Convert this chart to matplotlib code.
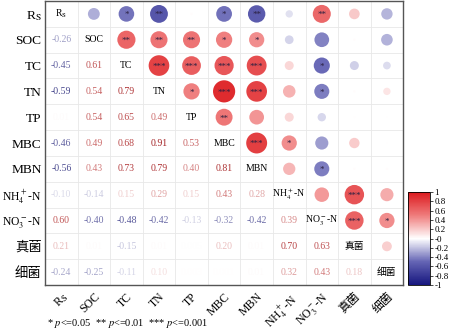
import numpy as np
import matplotlib
matplotlib.use('Agg')
import matplotlib.pyplot as plt
from matplotlib.colors import LinearSegmentedColormap

plt.rcParams['font.family'] = ['Liberation Serif', 'Noto Sans CJK SC']
plt.rcParams['mathtext.fontset'] = 'stix'

# 变量名
labels = ['R$_\\mathrm{S}$', 'SOC', 'TC', 'TN', 'TP', 'MBC', 'MBN',
          'NH$_4^+$-N', 'NO$_3^-$-N', '真菌', '细菌']

# 下三角相关系数（第 i 行有 i 个值）
r_rows = [
    [-0.26],
    [-0.45, 0.61],
    [-0.59, 0.54, 0.79],
    [0.01, 0.54, 0.65, 0.49],
    [-0.46, 0.49, 0.68, 0.91, 0.53],
    [-0.56, 0.43, 0.73, 0.79, 0.40, 0.81],
    [-0.10, -0.14, 0.15, 0.29, 0.15, 0.43, 0.28],
    [0.60, -0.40, -0.48, -0.42, -0.13, -0.32, -0.42, 0.39],
    [0.21, 0.01, -0.15, 0.01, 0.005, 0.20, 0.01, 0.70, 0.63],
    [-0.24, -0.25, -0.11, 0.10, 0.003, 0.001, 0.01, 0.32, 0.43, 0.18],
]

# 显著性星号个数
star_rows = [
    [0],
    [1, 2],
    [2, 2, 3],
    [0, 2, 3, 1],
    [1, 1, 3, 3, 2],
    [2, 1, 3, 3, 0, 3],
    [0, 0, 0, 0, 0, 1, 0],
    [2, 0, 1, 1, 0, 0, 1, 0],
    [0, 0, 0, 0, 0, 0, 0, 3, 3],
    [0, 0, 0, 0, 0, 0, 0, 0, 1, 0],
]

n = len(labels)
R = np.eye(n)
S = np.zeros((n, n), dtype=int)
for i, row in enumerate(r_rows, start=1):
    for j, v in enumerate(row):
        R[i, j] = R[j, i] = v
        S[i, j] = S[j, i] = star_rows[i - 1][j]

cmap = LinearSegmentedColormap.from_list(
    'bwr_custom', ['#16167e', '#6464b4', '#ffffff', '#ef7c7c', '#dc1a1e'])

fig = plt.figure(figsize=(4.5, 3.33), dpi=100)
ax = fig.add_axes([0.1, 0.144, 0.796, 0.853])

# 网格
for k in range(n - 1):
    ax.axhline(k + 0.5, color='#e8e8e8', lw=0.6, zorder=0)
    ax.axvline(k + 0.5, color='#e8e8e8', lw=0.6, zorder=0)

xs, ys, vs = [], [], []
for i in range(n):
    for j in range(n):
        v = R[i, j]
        if i == j:
            ax.text(j, i, labels[i], ha='center', va='center', fontsize=7)
        elif i > j:
            c = np.array(cmap((v + 1) / 2)[:3]) * (1 - 0.3 * abs(v))
            txt = f'{v:.2f}' if abs(v) >= 0.01 else f'{v:.3f}'
            ax.text(j, i, txt, ha='center', va='center', fontsize=7, color=c)
        else:
            xs.append(j)
            ys.append(i)
            vs.append(v)

vs = np.array(vs)
sc = ax.scatter(xs, ys, s=280 * np.abs(vs), c=vs, cmap=cmap, vmin=-1, vmax=1,
                edgecolors='none', zorder=2)
for x, y in zip(xs, ys):
    if S[y, x] > 0:
        ax.text(x, y + 0.05, '*' * S[y, x], ha='center', va='center',
                fontsize=6.5, color='#2a2040', zorder=3)

ax.set_xlim(-0.5, n - 0.5)
ax.set_ylim(n - 0.5, -0.5)
ax.set_xticks(range(n))
ax.set_yticks(range(n))
ax.set_xticklabels(labels, rotation=45, ha='right', rotation_mode='anchor',
                   fontsize=8.5)
ax.set_yticklabels(labels, fontsize=9.6)
for t in ax.get_yticklabels():
    if '$_' in t.get_text() and 'N' in t.get_text():
        t.set_fontsize(8.4)
ax.tick_params(axis='y', length=0, pad=2.5)
ax.tick_params(axis='x', length=0, pad=4)
for sp in ax.spines.values():
    sp.set_color('#555555')
    sp.set_linewidth(1)

# 色标
cax = fig.add_axes([0.907, 0.144, 0.049, 0.279])
cb = fig.colorbar(sc, cax=cax, ticks=np.round(np.arange(-1, 1.01, 0.2), 1))
cb.ax.set_yticklabels([f'{t:g}' for t in np.round(np.arange(-1, 1.01, 0.2), 1)],
                      fontsize=6.5)
cb.ax.tick_params(length=2, width=0.5, pad=1)
cb.outline.set_linewidth(0.6)

fig.text(0.104, 0.022, '* $p$<=0.05  ** $p$<=0.01  *** $p$<=0.001', fontsize=7.5)

fig.savefig('out.png', dpi=100)
